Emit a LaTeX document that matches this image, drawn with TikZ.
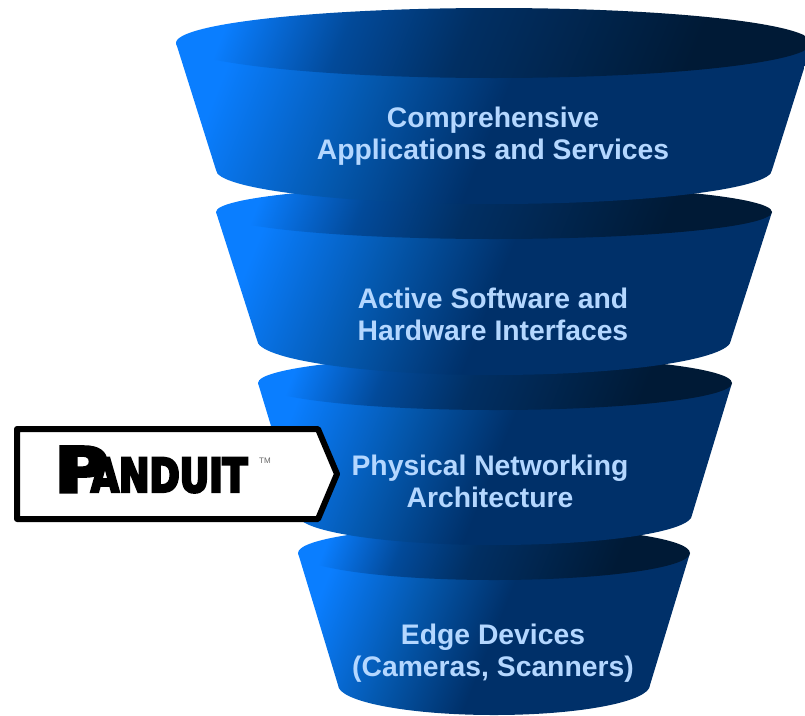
\documentclass[tikz,border=0pt]{standalone}
\usepackage{fontspec}
\setmainfont{Liberation Sans}
\newfontfamily\logofont[FakeBold=5,FakeStretch=0.86]{DejaVu Sans Condensed Bold}
\definecolor{lbl}{HTML}{B4D7FF}
\definecolor{fbA}{HTML}{0A7EFF}
\definecolor{fbB}{HTML}{0458AE}
\definecolor{fbC}{HTML}{003069}
\definecolor{ftB}{HTML}{024A9A}
\definecolor{ftC}{HTML}{012F63}
\definecolor{ftD}{HTML}{001A36}
\pgfdeclarehorizontalshading{funnelbody}{100bp}{color(0bp)=(fbA); color(23bp)=(fbA); color(37bp)=(fbB); color(50bp)=(fbC); color(75bp)=(fbC); color(100bp)=(fbC)}
\pgfdeclarehorizontalshading{funneltop}{100bp}{color(0bp)=(fbA); color(23bp)=(fbA); color(35bp)=(ftB); color(47bp)=(ftC); color(70bp)=(ftD); color(100bp)=(ftD)}
\tikzset{
  x=1pt,y=-1pt,
  bodyfill/.style={shading=funnelbody,shading angle=-22},
  topfill/.style={shading=funneltop,shading angle=-22},
  lab/.style={text=lbl,align=center,font=\fontsize{28.3}{32}\selectfont\bfseries},
}
\newcommand{\funnel}[7]{% cx, top half w, top y, top ry, bot half w, bot y, bot ry
  \path[bodyfill] (#1-#2,#3) -- (#1-#5,#6) arc[start angle=180,end angle=360,x radius=#5,y radius=-#7] -- (#1+#2,#3) -- cycle;
  \path[topfill] (#1,#3) ellipse[x radius=#2,y radius=#4];
}
\begin{document}
\begin{tikzpicture}
\useasboundingbox (0,0) rectangle (805,715);
\clip (0,0) rectangle (805,715);
\funnel{494}{196}{553}{27}{156}{685}{30}
\funnel{495}{237}{383}{27}{197}{515}{30}
\funnel{494}{278}{212}{27}{237}{340}{35}
\funnel{494}{318}{43}{35}{278}{170}{34}
\node[lab] (t1) at (493,136) {Comprehensive\\Applications and Services};
\node[lab] (t2) at (493,314) {Active Software and\\Hardware Interfaces};
\node[lab] (t3) at (490,481) {Physical Networking\\Architecture};
\node[lab] (t4) at (493,653) {Edge Devices\\(Cameras, Scanners)};
\draw[line width=6pt,line join=round,fill=white] (17,429) -- (318,429) -- (337,474) -- (318,519) -- (17,519) -- cycle;
\node[inner sep=0pt,anchor=base west,font=\logofont\fontsize{47}{47}\selectfont] (logo) at (55,492) {\scalebox{1.5}[1]{\fontsize{62}{62}\selectfont P}\kern-17pt ANDUIT};
\node[inner sep=0pt,anchor=base west,text=black!60,font=\fontsize{8}{8}\selectfont] (tm) at (259,463) {TM};
\end{tikzpicture}
\end{document}
